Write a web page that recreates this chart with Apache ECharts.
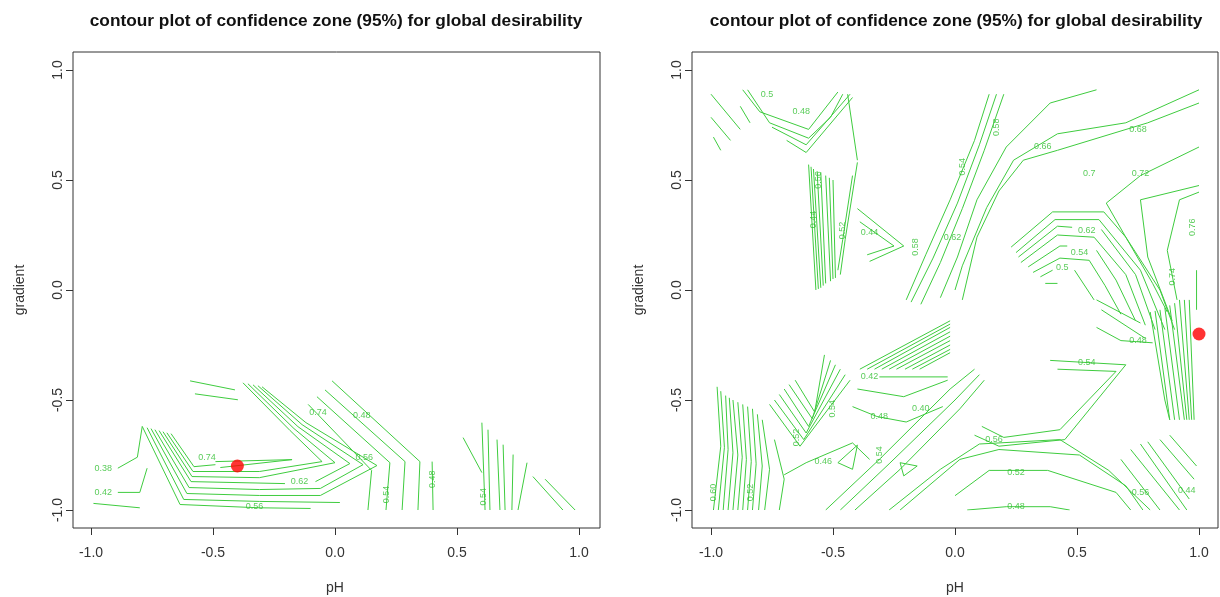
<!DOCTYPE html>
<html><head><meta charset="utf-8">
<script src="https://cdn.jsdelivr.net/npm/echarts@6/dist/echarts.min.js"></script>
<style>html,body{margin:0;padding:0;background:#fff}#c{width:1220px;height:597px}</style>
</head><body><div id="c"></div>
<script>
// ---------- data ----------
var chartTitle = 'contour plot of confidence zone (95%) for global desirability';
var xName = 'pH', yName = 'gradient';
var tickValues = [-1.0, -0.5, 0.0, 0.5, 1.0];
var leftOptimum = [[-0.40, -0.80]];
var rightOptimum = [[1.00, -0.20]];

// left panel contour polylines [pH, gradient]
var leftLines = [
 [[-0.89,-0.81],[-0.81,-0.76],[-0.79,-0.62]],
 [[-0.89,-0.92],[-0.80,-0.92],[-0.77,-0.81]],
 [[-0.99,-0.97],[-0.80,-0.99]],
 [[-0.79,-0.62],[-0.635,-0.975],[-0.31,-0.99],[-0.10,-0.993]],
 [[-0.77,-0.626],[-0.62,-0.952],[-0.31,-0.961],[0.02,-0.966]],
 [[-0.754,-0.63],[-0.607,-0.925],[-0.31,-0.934],[-0.06,-0.934],[0.172,-0.798]],
 [[-0.738,-0.635],[-0.598,-0.898],[-0.31,-0.907],[-0.06,-0.902],[0.115,-0.794]],
 [[-0.721,-0.639],[-0.59,-0.871],[-0.205,-0.88]],
 [[-0.08,-0.871],[0.061,-0.789]],
 [[-0.705,-0.644],[-0.586,-0.848],[-0.31,-0.853],[0.0,-0.785]],
 [[-0.689,-0.649],[-0.582,-0.825],[-0.31,-0.825],[-0.053,-0.78]],
 [[-0.672,-0.653],[-0.578,-0.803],[-0.49,-0.794]],
 [[-0.49,-0.78],[-0.176,-0.771],[-0.47,-0.807]],
 [[-0.053,-0.78],[-0.184,-0.639],[-0.377,-0.422]],
 [[0.0,-0.785],[-0.168,-0.63],[-0.357,-0.426]],
 [[0.061,-0.789],[-0.152,-0.621],[-0.336,-0.431]],
 [[0.115,-0.794],[-0.135,-0.612],[-0.316,-0.435]],
 [[0.172,-0.798],[-0.119,-0.603],[-0.299,-0.44]],
 [[-0.594,-0.413],[-0.41,-0.454]],
 [[-0.574,-0.472],[-0.398,-0.499]],
 [[-0.012,-0.413],[0.348,-0.78],[0.34,-1.0]],
 [[-0.041,-0.454],[0.287,-0.78],[0.275,-1.0]],
 [[-0.074,-0.485],[0.225,-0.785],[0.209,-1.0]],
 [[-0.11,-0.52],[0.15,-0.82],[0.135,-1.0]],
 [[0.398,-0.78],[0.402,-1.0]],
 [[0.602,-0.603],[0.615,-1.0]],
 [[0.627,-0.635],[0.635,-1.0]],
 [[0.664,-0.68],[0.676,-1.0]],
 [[0.689,-0.703],[0.697,-1.0]],
 [[0.73,-0.748],[0.725,-1.0]],
 [[0.787,-0.785],[0.75,-1.0]],
 [[0.811,-0.848],[0.934,-1.0]],
 [[0.861,-0.86],[0.984,-1.0]],
 [[0.525,-0.671],[0.602,-0.83]]
];
var leftLabels = [
 [-0.95,-0.81,'0.38'],[-0.95,-0.92,'0.42'],[-0.145,-0.87,'0.62'],[-0.525,-0.76,'0.74'],
 [0.11,-0.57,'0.48'],[0.12,-0.76,'0.56'],[-0.33,-0.985,'0.56'],[-0.07,-0.555,'0.74']
];
var leftLabelsV = [
 [0.21,-0.93,'0.54'],[0.40,-0.86,'0.48'],[0.61,-0.94,'0.54']
];

// right panel contour polylines [pH, gradient]
var rightLines = [
 [[-0.87,0.91],[-0.80,0.81],[-0.60,0.73],[-0.48,0.90]],
 [[-0.85,0.91],[-0.76,0.76],[-0.60,0.69],[-0.51,0.785],[-0.46,0.89]],
 [[-0.75,0.74],[-0.61,0.66],[-0.43,0.89]],
 [[-0.69,0.68],[-0.61,0.625],[-0.42,0.875]],
 [[-0.44,0.89],[-0.40,0.59]],
 [[-1.0,0.89],[-0.88,0.73]],
 [[-1.0,0.785],[-0.92,0.68]],
 [[-0.99,0.695],[-0.96,0.635]],
 [[-0.88,0.835],[-0.84,0.76]],
 [[-0.60,0.57],[-0.57,0.0]],
 [[-0.59,0.56],[-0.56,0.005]],
 [[-0.58,0.55],[-0.55,0.01]],
 [[-0.565,0.54],[-0.54,0.02]],
 [[-0.55,0.535],[-0.53,0.03]],
 [[-0.53,0.52],[-0.51,0.04]],
 [[-0.515,0.51],[-0.50,0.05]],
 [[-0.50,0.50],[-0.49,0.055]],
 [[-0.40,0.58],[-0.45,0.23],[-0.47,0.07]],
 [[-0.42,0.52],[-0.46,0.23],[-0.48,0.09]],
 [[-0.40,0.37],[-0.21,0.20],[-0.35,0.13]],
 [[-0.39,0.31],[-0.25,0.20],[-0.36,0.16]],
 [[-0.20,-0.045],[-0.12,0.16],[-0.02,0.41],[0.08,0.68],[0.14,0.89]],
 [[-0.18,-0.055],[-0.09,0.145],[0.01,0.395],[0.10,0.66],[0.17,0.89]],
 [[-0.14,-0.065],[-0.06,0.125],[0.03,0.37],[0.12,0.635],[0.20,0.89]],
 [[-0.06,-0.035],[0.01,0.15],[0.09,0.41],[0.21,0.65],[0.39,0.85],[0.58,0.91]],
 [[0.0,0.0],[0.03,0.11],[0.13,0.375],[0.24,0.59],[0.42,0.71],[0.70,0.76],[1.0,0.91]],
 [[0.03,-0.045],[0.09,0.24],[0.18,0.45],[0.28,0.59],[0.42,0.635],[0.79,0.76],[1.0,0.85]],
 [[1.0,0.65],[0.76,0.52],[0.62,0.395],[0.70,0.24],[0.81,0.03],[0.87,-0.10]],
 [[1.0,0.475],[0.76,0.41],[0.79,0.15],[0.89,-0.14]],
 [[1.0,0.445],[0.92,0.41],[0.87,0.18],[0.91,-0.045]],
 [[0.99,0.09],[0.99,-0.09]],
 [[0.23,0.195],[0.40,0.355],[0.61,0.355],[0.70,0.24],[0.84,0.0],[0.90,-0.18]],
 [[0.25,0.17],[0.41,0.32],[0.59,0.32],[0.76,0.09],[0.86,-0.18]],
 [[0.26,0.15],[0.42,0.29],[0.48,0.285]],
 [[0.60,0.275],[0.74,0.07],[0.82,-0.18]],
 [[0.27,0.125],[0.42,0.25],[0.57,0.24],[0.70,0.07],[0.78,-0.16]],
 [[0.30,0.105],[0.43,0.20],[0.46,0.20]],
 [[0.58,0.18],[0.66,0.045],[0.74,-0.14]],
 [[0.32,0.08],[0.43,0.145],[0.55,0.135],[0.615,0.02],[0.68,-0.11]],
 [[0.35,0.06],[0.40,0.09]],
 [[0.49,0.09],[0.57,-0.045]],
 [[0.37,0.03],[0.42,0.03]],
 [[-0.975,-0.44],[-0.96,-0.71],[-0.99,-1.0]],
 [[-0.96,-0.46],[-0.945,-0.715],[-0.97,-1.0]],
 [[-0.94,-0.48],[-0.93,-0.725],[-0.95,-1.0]],
 [[-0.925,-0.49],[-0.91,-0.74],[-0.93,-1.0]],
 [[-0.91,-0.50],[-0.89,-0.75],[-0.91,-1.0]],
 [[-0.89,-0.51],[-0.872,-0.76],[-0.89,-1.0]],
 [[-0.87,-0.52],[-0.855,-0.77],[-0.87,-1.0]],
 [[-0.85,-0.53],[-0.835,-0.78],[-0.85,-1.0]],
 [[-0.83,-0.54],[-0.815,-0.79],[-0.83,-1.0]],
 [[-0.81,-0.565],[-0.79,-0.80],[-0.805,-1.0]],
 [[-0.79,-0.59],[-0.76,-0.815],[-0.78,-1.0]],
 [[-0.74,-0.68],[-0.70,-0.86],[-0.72,-1.0]],
 [[-0.76,-0.52],[-0.635,-0.71],[-0.43,-0.41]],
 [[-0.74,-0.50],[-0.62,-0.68],[-0.45,-0.385]],
 [[-0.72,-0.475],[-0.61,-0.65],[-0.47,-0.36]],
 [[-0.70,-0.45],[-0.60,-0.62],[-0.49,-0.34]],
 [[-0.68,-0.43],[-0.585,-0.585],[-0.51,-0.32]],
 [[-0.655,-0.41],[-0.575,-0.555],[-0.535,-0.295]],
 [[-0.39,-0.36],[-0.02,-0.14]],
 [[-0.36,-0.36],[-0.02,-0.155]],
 [[-0.33,-0.36],[-0.02,-0.17]],
 [[-0.30,-0.36],[-0.02,-0.19]],
 [[-0.27,-0.36],[-0.02,-0.21]],
 [[-0.24,-0.36],[-0.02,-0.23]],
 [[-0.205,-0.36],[-0.02,-0.25]],
 [[-0.175,-0.36],[-0.02,-0.27]],
 [[-0.145,-0.36],[-0.02,-0.285]],
 [[-0.31,-0.395],[-0.03,-0.395]],
 [[-0.40,-0.45],[-0.21,-0.485],[-0.03,-0.41]],
 [[-0.42,-0.53],[-0.32,-0.575],[-0.20,-0.60],[-0.05,-0.53]],
 [[-0.48,-0.785],[-0.40,-0.705],[-0.42,-0.815],[-0.48,-0.785]],
 [[-0.225,-0.785],[-0.155,-0.80],[-0.21,-0.845],[-0.225,-0.785]],
 [[-0.70,-0.84],[-0.61,-0.785],[-0.42,-0.695],[-0.35,-0.77]],
 [[-0.53,-1.0],[-0.31,-0.77],[-0.02,-0.45],[0.08,-0.36]],
 [[-0.47,-1.0],[-0.27,-0.79],[0.0,-0.50],[0.10,-0.385]],
 [[-0.41,-1.0],[-0.225,-0.815],[0.02,-0.54],[0.12,-0.41]],
 [[0.0,-0.935],[0.14,-0.82],[0.38,-0.82],[0.66,-0.92],[0.72,-1.0]],
 [[-0.225,-1.0],[0.02,-0.77],[0.18,-0.725],[0.51,-0.75],[0.70,-0.89],[0.77,-1.0]],
 [[0.05,-1.0],[0.21,-0.985],[0.39,-0.985],[0.47,-1.0]],
 [[-0.27,-1.0],[-0.06,-0.815],[0.10,-0.70],[0.43,-0.68],[0.63,-0.82],[0.80,-1.0]],
 [[0.79,-0.69],[0.96,-0.95]],
 [[0.84,-0.68],[0.98,-0.86]],
 [[0.88,-0.66],[0.99,-0.80]],
 [[0.76,-0.70],[0.95,-1.0]],
 [[0.72,-0.725],[0.92,-1.0]],
 [[0.68,-0.77],[0.84,-1.0]],
 [[0.80,-0.10],[0.86,-0.50],[0.88,-0.59]],
 [[0.82,-0.095],[0.88,-0.59]],
 [[0.84,-0.09],[0.90,-0.59]],
 [[0.86,-0.08],[0.92,-0.59]],
 [[0.88,-0.07],[0.94,-0.59]],
 [[0.90,-0.06],[0.95,-0.59]],
 [[0.92,-0.045],[0.96,-0.59]],
 [[0.94,-0.045],[0.97,-0.59]],
 [[0.96,-0.045],[0.98,-0.59]],
 [[0.58,-0.045],[0.76,-0.15]],
 [[0.60,-0.09],[0.78,-0.22]],
 [[0.58,-0.17],[0.68,-0.23],[0.81,-0.24]],
 [[0.42,-0.36],[0.66,-0.37],[0.43,-0.635],[0.20,-0.67],[0.11,-0.62]],
 [[0.39,-0.32],[0.70,-0.34],[0.45,-0.68],[0.18,-0.71],[0.08,-0.66]]
];
var rightLabels = [
 [-0.63,0.81,'0.48'],[-0.77,0.89,'0.5'],[-0.35,0.26,'0.44'],[-0.01,0.24,'0.62'],
 [0.36,0.65,'0.66'],[0.75,0.73,'0.68'],[0.55,0.53,'0.7'],[0.76,0.53,'0.72'],
 [0.54,0.27,'0.62'],[0.51,0.17,'0.54'],[0.44,0.10,'0.5'],[-0.35,-0.395,'0.42'],
 [-0.31,-0.575,'0.48'],[-0.14,-0.54,'0.40'],[-0.54,-0.78,'0.46'],[0.75,-0.23,'0.48'],
 [0.54,-0.33,'0.54'],[0.25,-0.83,'0.52'],[0.25,-0.985,'0.48'],[0.16,-0.68,'0.56'],
 [0.76,-0.92,'0.56'],[0.95,-0.91,'0.44']
];
var rightLabelsV = [
 [0.17,0.74,'0.58'],[0.03,0.56,'0.54'],[-0.16,0.195,'0.58'],[0.975,0.285,'0.76'],
 [0.89,0.06,'0.74'],[-0.56,0.50,'0.56'],[-0.58,0.32,'0.44'],[-0.46,0.27,'0.52'],
 [-0.99,-0.92,'0.60'],[-0.84,-0.92,'0.52'],[-0.65,-0.67,'0.52'],[-0.50,-0.54,'0.54'],
 [-0.31,-0.75,'0.54']
];

// ---------- chart ----------
var GREEN = '#3fcc3f';
var FONT = 'Liberation Sans, Arial, sans-serif';
var chart = echarts.init(document.getElementById('c'), null, {renderer:'canvas'});

function fmt(v){ return Number(v).toFixed(1); }
function innerX(g){
  return {gridIndex:g, type:'value', min:-1, max:1, interval:0.5, position:'bottom', offset:18,
    axisLine:{show:false, onZero:false}, splitLine:{show:false},
    axisTick:{show:true, length:7, customValues:tickValues, lineStyle:{color:'#333'}},
    axisLabel:{margin:18, fontSize:14, color:'#333', fontFamily:FONT, customValues:tickValues, formatter:fmt},
    name:xName, nameLocation:'middle', nameGap:53,
    nameTextStyle:{fontSize:14, color:'#333', fontFamily:FONT}};
}
function innerY(g, off){
  return {gridIndex:g, type:'value', min:-1, max:1, interval:0.5, position:'left', offset:off,
    axisLine:{show:false, onZero:false}, splitLine:{show:false},
    axisTick:{show:true, length:7, customValues:tickValues, lineStyle:{color:'#333'}},
    axisLabel:{margin:8, rotate:90, fontSize:14, color:'#333', fontFamily:FONT, customValues:tickValues, formatter:fmt},
    name:yName, nameLocation:'middle', nameGap:46, nameRotate:90,
    nameTextStyle:{fontSize:14, color:'#333', fontFamily:FONT}};
}
function frameAxis(g){ return {gridIndex:g, type:'value', show:false, min:0, max:1}; }

function linesSeries(arr, g){
  return {type:'lines', coordinateSystem:'cartesian2d', xAxisIndex:g, yAxisIndex:g, polyline:true,
    silent:true, lineStyle:{color:GREEN, width:1, opacity:1},
    data:arr.map(function(c){return {coords:c};})};
}
function labelSeries(arr, g, rot){
  return {type:'scatter', xAxisIndex:g, yAxisIndex:g, symbolSize:1, silent:true,
    itemStyle:{color:'rgba(0,0,0,0)'}, data:arr,
    label:{show:true, position:'inside', rotate:rot, fontSize:9, color:'#2fbf2f', fontFamily:FONT,
      formatter:function(p){return p.value[2];}}};
}
function optSeries(arr, g){
  return {type:'scatter', xAxisIndex:g, yAxisIndex:g, symbol:'circle', symbolSize:13, clip:false,
    itemStyle:{color:'#ff0000'}, data:arr, z:10};
}

chart.setOption({
  animation:false,
  backgroundColor:'#fff',
  title:[
    {text:chartTitle, left:331, top:8, textAlign:'center',
     textStyle:{fontSize:17.3, fontWeight:'bold', color:'#111', fontFamily:FONT}},
    {text:chartTitle, left:951, top:8, textAlign:'center',
     textStyle:{fontSize:17.3, fontWeight:'bold', color:'#111', fontFamily:FONT}}
  ],
  grid:[
    {left:91, width:488, top:70, height:440, show:false, outerBoundsMode:'none', containLabel:false},
    {left:711, width:488, top:70, height:440, show:false, outerBoundsMode:'none', containLabel:false},
    {left:73, width:527, top:52, height:476, show:true, borderColor:'#333', borderWidth:1, backgroundColor:'transparent', outerBoundsMode:'none', containLabel:false},
    {left:692, width:526, top:52, height:476, show:true, borderColor:'#333', borderWidth:1, backgroundColor:'transparent', outerBoundsMode:'none', containLabel:false}
  ],
  xAxis:[innerX(0), innerX(1), frameAxis(2), frameAxis(3)],
  yAxis:[innerY(0,18), innerY(1,19), frameAxis(2), frameAxis(3)],
  series:[
    linesSeries(leftLines,0),
    labelSeries(leftLabels,0,0),
    labelSeries(leftLabelsV,0,90),
    optSeries(leftOptimum,0),
    linesSeries(rightLines,1),
    labelSeries(rightLabels,1,0),
    labelSeries(rightLabelsV,1,90),
    optSeries(rightOptimum,1)
  ]
});
</script></body></html>
